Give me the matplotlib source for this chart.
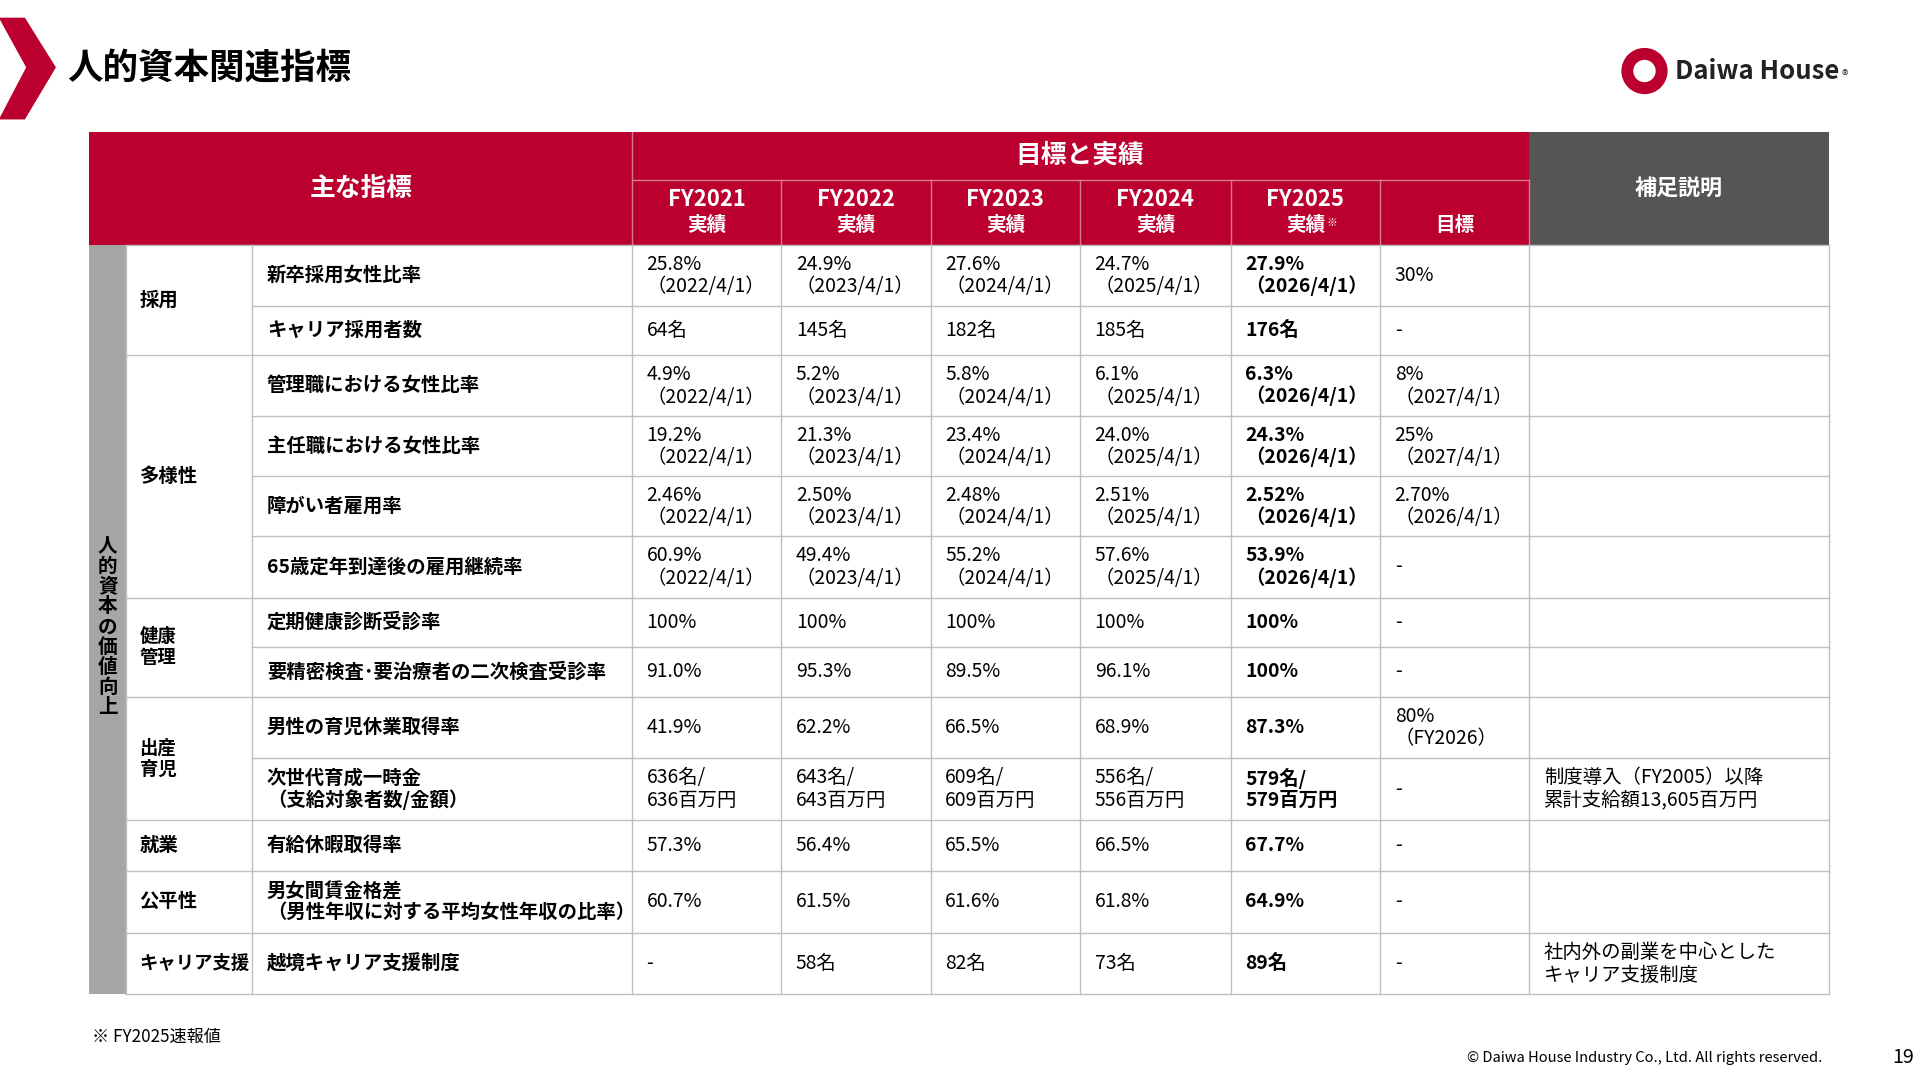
import matplotlib.pyplot as plt
from matplotlib.patches import Rectangle, Polygon, Circle

plt.rcParams['font.family'] = ['Noto Sans CJK JP', 'DejaVu Sans']

W, H = 1568, 882
SC = 1920 / W

RED = "#bb0030"
DARK = "#555555"
GRAY = "#a6a6a6"
LINE = "#bfbfbf"

TITLE = "人的資本関連指標"
YEARS = ["FY2021", "FY2022", "FY2023", "FY2024", "FY2025"]
GROUPS = [("採用", 0, 2), ("多様性", 2, 6), ("健康\n管理", 6, 8), ("出産\n育児", 8, 10),
          ("就業", 10, 11), ("公平性", 11, 12), ("キャリア支援", 12, 13)]
METRICS = ["新卒採用女性比率", "キャリア採用者数", "管理職における女性比率", "主任職における女性比率",
           "障がい者雇用率", "65歳定年到達後の雇用継続率", "定期健康診断受診率",
           "要精密検査･要治療者の二次検査受診率", "男性の育児休業取得率",
           "次世代育成一時金\n（支給対象者数/金額）", "有給休暇取得率",
           "男女間賃金格差\n（男性年収に対する平均女性年収の比率）", "越境キャリア支援制度"]
VALUES = [
    ["25.8%\n（2022/4/1）", "24.9%\n（2023/4/1）", "27.6%\n（2024/4/1）", "24.7%\n（2025/4/1）", "27.9%\n（2026/4/1）", "30%"],
    ["64名", "145名", "182名", "185名", "176名", "-"],
    ["4.9%\n（2022/4/1）", "5.2%\n（2023/4/1）", "5.8%\n（2024/4/1）", "6.1%\n（2025/4/1）", "6.3%\n（2026/4/1）", "8%\n（2027/4/1）"],
    ["19.2%\n（2022/4/1）", "21.3%\n（2023/4/1）", "23.4%\n（2024/4/1）", "24.0%\n（2025/4/1）", "24.3%\n（2026/4/1）", "25%\n（2027/4/1）"],
    ["2.46%\n（2022/4/1）", "2.50%\n（2023/4/1）", "2.48%\n（2024/4/1）", "2.51%\n（2025/4/1）", "2.52%\n（2026/4/1）", "2.70%\n（2026/4/1）"],
    ["60.9%\n（2022/4/1）", "49.4%\n（2023/4/1）", "55.2%\n（2024/4/1）", "57.6%\n（2025/4/1）", "53.9%\n（2026/4/1）", "-"],
    ["100%", "100%", "100%", "100%", "100%", "-"],
    ["91.0%", "95.3%", "89.5%", "96.1%", "100%", "-"],
    ["41.9%", "62.2%", "66.5%", "68.9%", "87.3%", "80%\n（FY2026）"],
    ["636名/\n636百万円", "643名/\n643百万円", "609名/\n609百万円", "556名/\n556百万円", "579名/\n579百万円", "-"],
    ["57.3%", "56.4%", "65.5%", "66.5%", "67.7%", "-"],
    ["60.7%", "61.5%", "61.6%", "61.8%", "64.9%", "-"],
    ["-", "58名", "82名", "73名", "89名", "-"],
]
NOTES = {9: "制度導入（FY2005）以降\n累計支給額13,605百万円", 12: "社内外の副業を中心とした\nキャリア支援制度"}

XS = [73, 103, 206, 516, 638, 760, 882, 1005, 1127, 1249, 1494]
YS = [200, 250, 290, 340, 389, 438, 488, 528, 569, 619, 670, 711, 762, 812]


def fs(px):
    return px * SC * 0.72


fig = plt.figure(figsize=(19.2, 10.8), dpi=100)
ax = fig.add_axes([0, 0, 1, 1])
ax.set_xlim(0, W)
ax.set_ylim(H, 0)
ax.axis("off")


def rect(x0, y0, x1, y1, color, **kw):
    ax.add_patch(Rectangle((x0, y0), x1 - x0, y1 - y0, facecolor=color, edgecolor="none", **kw))


def txt(x, y, s, size=15.8, bold=False, color="black", ha="left", **kw):
    ax.text(x, y, s, fontsize=fs(size), fontweight="bold" if bold else "normal",
            color=color, ha=ha, va="center", linespacing=1.1, **kw)


# title chevron and logo
ax.add_patch(Polygon([(0, 15), (20, 15), (45, 55), (20, 97), (0, 97), (22, 55)], color=RED))
txt(55, 56, TITLE, 29, bold=True)
ax.add_patch(Circle((1343, 58), 14, facecolor="white", edgecolor=RED, linewidth=7 * SC))
txt(1368, 58, "Daiwa House", 21, bold=True, color="#222222")
txt(1504, 63, "®", 11, color="#444444")

# header
rect(73, 108, 1249, 200, RED)
rect(1249, 108, 1494, 200, DARK)
ax.plot([516, 1249], [147, 147], color="#d87a8e", lw=1)
for x in XS[4:10]:
    ax.plot([x, x], [147, 200], color="#d87a8e", lw=1)
ax.plot([516, 516], [108, 200], color="#d87a8e", lw=1)
txt(295, 154, "主な指標", 21, bold=True, color="white", ha="center")
txt(882, 127, "目標と実績", 21, bold=True, color="white", ha="center")
txt(1371, 154, "補足説明", 18, bold=True, color="white", ha="center")
for i, y in enumerate(YEARS):
    cx = (XS[3 + i] + XS[4 + i]) / 2
    txt(cx, 163, y, 18, bold=True, color="white", ha="center")
    txt(cx, 184, "実績", 16, bold=True, color="white", ha="center")
txt((XS[7] + XS[8]) / 2 + 22, 182, "※", 9, color="white", ha="center")
txt((1127 + 1249) / 2, 184, "目標", 16, bold=True, color="white", ha="center")

# left gray bar
rect(73, 200, 103, 812, GRAY)
for i, ch in enumerate("人的資本の価値向上"):
    txt(88, 446 + i * 16.5, ch, 16, bold=True, ha="center")

# grid lines
for i, y in enumerate(YS):
    in_group = any(a < i < b for _, a, b in GROUPS)
    x0 = 206 if in_group else 103
    ax.plot([x0, 1494], [y, y], color=LINE, lw=1)
for x in XS[1:]:
    ax.plot([x, x], [200, 812], color=LINE, lw=1)

# groups
for name, a, b in GROUPS:
    size = 15 if len(name) > 4 else 15.8
    txt(114, (YS[a] + YS[b]) / 2, name, size, bold=True)

# rows
for r in range(13):
    cy = (YS[r] + YS[r + 1]) / 2
    txt(218, cy, METRICS[r], bold=True)
    for c, v in enumerate(VALUES[r]):
        txt(XS[3 + c] + 12, cy, v, bold=(c == 4))
    if r in NOTES:
        txt(1261, cy, NOTES[r])

txt(75, 847, "※ FY2025速報値", 14)
txt(1488, 864, "© Daiwa House Industry Co., Ltd. All rights reserved.", 12, ha="right")
txt(1563, 864, "19", 16, ha="right")

fig.savefig("out.png", dpi=100)
